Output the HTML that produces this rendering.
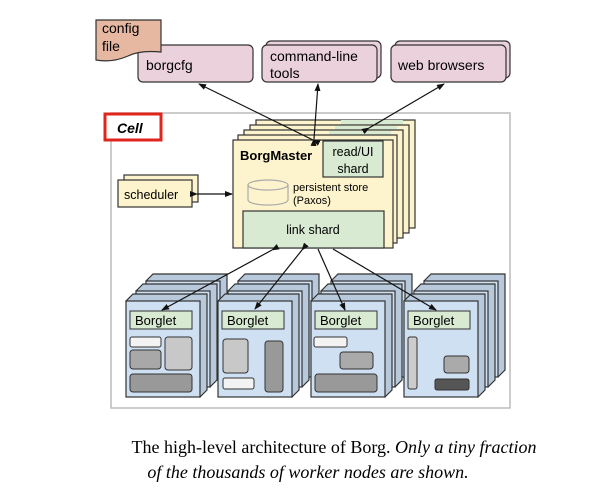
<!DOCTYPE html>
<html><head><meta charset="utf-8"><style>
html,body{margin:0;padding:0;background:#fff;width:600px;height:493px;overflow:hidden}
svg text{font-family:"Liberation Sans",Arial,sans-serif}
</style></head><body>
<svg width="600" height="493" viewBox="0 0 600 493" xmlns="http://www.w3.org/2000/svg">
<defs>
<marker id="a" markerWidth="8" markerHeight="8" refX="7" refY="4" orient="auto" markerUnits="userSpaceOnUse">
<path d="M0,1 L8,4 L0,7 z" fill="#111"/></marker>
<g id="cube">
<path d="M0,0 l7,-7 h74 v96 l-7,7 z" fill="#b8c9dc" stroke="#333" stroke-width="1.2"/>
<rect x="0" y="0" width="74" height="96" fill="#cfe0f3" stroke="#333" stroke-width="1.2"/>
</g>
</defs>

<rect x="111" y="113" width="399" height="295" fill="#fff" stroke="#bbb" stroke-width="1.5"/>
<rect x="105" y="114" width="56" height="26" fill="#fff" stroke="#e0261c" stroke-width="3"/>
<text x="117" y="133" font-size="14" font-weight="bold" font-style="italic">Cell</text>

<rect x="138" y="45" width="115" height="37" rx="5" fill="#ead1dc" stroke="#333" stroke-width="1.2"/>
<text x="146" y="70" font-size="14">borgcfg</text>
<rect x="266" y="41" width="115" height="37" rx="5" fill="#ead1dc" stroke="#333" stroke-width="1.2"/>
<rect x="262" y="45" width="115" height="37" rx="5" fill="#ead1dc" stroke="#333" stroke-width="1.2"/>
<text x="270" y="61" font-size="14">command-line</text>
<text x="270" y="78" font-size="14">tools</text>
<rect x="395" y="41" width="115" height="37" rx="5" fill="#ead1dc" stroke="#333" stroke-width="1.2"/>
<rect x="391" y="45" width="115" height="37" rx="5" fill="#ead1dc" stroke="#333" stroke-width="1.2"/>
<text x="398" y="70" font-size="14">web browsers</text>
<path d="M96,20 H161 V52 Q140,50 128,56 Q112,63 96,60 Z" fill="#e6b8a2" stroke="#333" stroke-width="1.2"/>
<text x="102" y="33" font-size="14">config</text>
<text x="102" y="51" font-size="14">file</text>

<g stroke="#333" stroke-width="1.2">
<rect x="256" y="120" width="159" height="108" fill="#fdf3cc"/>
<rect x="341" y="120" width="62" height="20" fill="#d9ead3" stroke="none"/>
<rect x="250" y="125" width="159" height="108" fill="#fdf3cc"/>
<rect x="335" y="126" width="62" height="20" fill="#d9ead3" stroke="none"/>
<rect x="244" y="130" width="159" height="108" fill="#fdf3cc"/>
<rect x="329" y="131" width="62" height="20" fill="#d9ead3" stroke="none"/>
<rect x="238" y="135" width="159" height="108" fill="#fdf3cc"/>
<rect x="233" y="140" width="160" height="108" fill="#fdf3cc"/>
<rect x="323" y="141" width="60" height="36" fill="#d9ead3"/>
<rect x="243" y="211" width="141" height="37" fill="#d9ead3"/>
</g>
<text x="240" y="160" font-size="13" font-weight="bold">BorgMaster</text>
<text x="353" y="156" font-size="12.5" text-anchor="middle">read/UI</text>
<text x="353" y="173" font-size="12.5" text-anchor="middle">shard</text>
<text x="313" y="234" font-size="12.5" text-anchor="middle">link shard</text>
<g fill="none" stroke="#aaa" stroke-width="1.2">
<path d="M248,185 V200 A20,5 0 0 0 288,200 V185"/>
<ellipse cx="268" cy="185" rx="20" ry="5"/>
</g>
<text x="293" y="191" font-size="11">persistent store</text>
<text x="293" y="204" font-size="11">(Paxos)</text>

<rect x="124" y="175" width="74" height="27" fill="#fdf3cc" stroke="#333" stroke-width="1.2"/>
<rect x="118" y="180" width="74" height="27" fill="#fdf3cc" stroke="#333" stroke-width="1.2"/>
<text x="124" y="199" font-size="12.5">scheduler</text>

<g stroke="#111" stroke-width="1.2" fill="none">
<line x1="313" y1="140" x2="199" y2="84" marker-start="url(#a)" marker-end="url(#a)"/>
<line x1="314" y1="139" x2="318" y2="84" marker-start="url(#a)" marker-end="url(#a)"/>
<line x1="369" y1="128" x2="444" y2="84" marker-start="url(#a)" marker-end="url(#a)"/>
<line x1="197" y1="194" x2="232" y2="194" marker-start="url(#a)" marker-end="url(#a)"/>
</g>

<g>
<use href="#cube" x="146" y="281"/><use href="#cube" x="136" y="291"/><use href="#cube" x="126" y="301"/>
<use href="#cube" x="238" y="281"/><use href="#cube" x="228" y="291"/><use href="#cube" x="218" y="301"/>
<use href="#cube" x="331" y="281"/><use href="#cube" x="321" y="291"/><use href="#cube" x="311" y="301"/>
<use href="#cube" x="424" y="281"/><use href="#cube" x="414" y="291"/><use href="#cube" x="404" y="301"/>
</g>
<g stroke="#333" stroke-width="1">
<rect x="130" y="311" width="62" height="18" fill="#d9ead3"/>
<rect x="222" y="311" width="62" height="18" fill="#d9ead3"/>
<rect x="315" y="311" width="62" height="18" fill="#d9ead3"/>
<rect x="408" y="311" width="62" height="18" fill="#d9ead3"/>
<rect x="130" y="337" width="31" height="10" rx="2" fill="#f3f3f3"/>
<rect x="130" y="350" width="31" height="19" rx="3" fill="#a8a8a8"/>
<rect x="165" y="337" width="27" height="33" rx="3" fill="#c8c8c8"/>
<rect x="130" y="374" width="62" height="18" rx="3" fill="#999"/>
<rect x="223" y="339" width="25" height="34" rx="3" fill="#c8c8c8"/>
<rect x="223" y="378" width="31" height="11" rx="2" fill="#f3f3f3"/>
<rect x="265" y="341" width="18" height="51" rx="3" fill="#999"/>
<rect x="314" y="337" width="33" height="10" rx="2" fill="#f3f3f3"/>
<rect x="340" y="352" width="33" height="17" rx="3" fill="#aaa"/>
<rect x="315" y="374" width="62" height="18" rx="3" fill="#999"/>
<rect x="408" y="337" width="9" height="52" rx="2" fill="#ccc"/>
<rect x="444" y="356" width="25" height="17" rx="3" fill="#aaa"/>
<rect x="435" y="379" width="34" height="11" rx="2" fill="#555"/>
</g>
<g font-size="13">
<text x="135" y="325">Borglet</text>
<text x="227" y="325">Borglet</text>
<text x="320" y="325">Borglet</text>
<text x="413" y="325">Borglet</text>
</g>
<g stroke="#111" stroke-width="1.2" fill="none">
<line x1="272" y1="250" x2="162" y2="310" marker-start="url(#a)" marker-end="url(#a)"/>
<line x1="302" y1="250" x2="255" y2="309" marker-start="url(#a)" marker-end="url(#a)"/>
<line x1="318" y1="249" x2="345" y2="310" marker-end="url(#a)"/>
<line x1="333" y1="249" x2="436" y2="310" marker-end="url(#a)"/>
</g>

<text x="334" y="453" font-size="18" text-anchor="middle" style="font-family:'Liberation Serif',serif">The high-level architecture of Borg. <tspan font-style="italic">Only a tiny fraction</tspan></text>
<text x="308" y="478" font-size="18" text-anchor="middle" font-style="italic" style="font-family:'Liberation Serif',serif">of the thousands of worker nodes are shown.</text>
</svg>
</body></html>
